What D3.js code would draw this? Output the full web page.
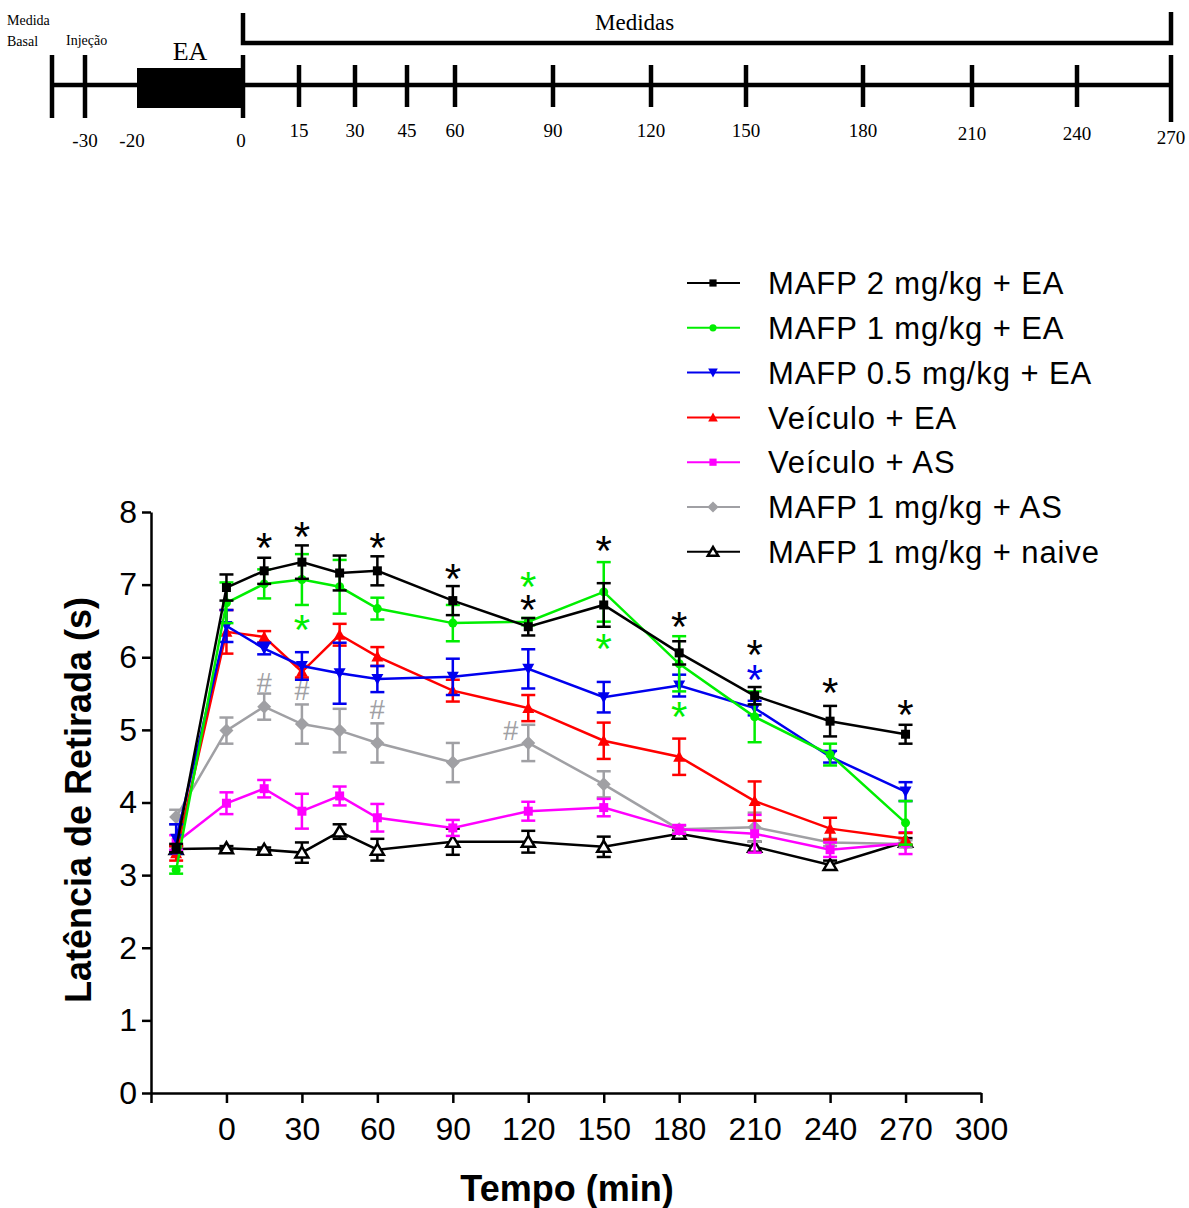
<!DOCTYPE html>
<html><head><meta charset="utf-8">
<script src="https://cdn.jsdelivr.net/npm/d3@7"></script>
<style>body{margin:0;background:#fff}svg{display:block}</style>
</head><body>
<svg id="c" width="1189" height="1208"></svg>
<script>
// ---------------- DATA ----------------
const times = [-20, 0, 15, 30, 45, 60, 90, 120, 150, 180, 210, 240, 270];
const seriesNames = ["MAFP 2 mg/kg + EA","MAFP 1 mg/kg + EA","MAFP 0.5 mg/kg + EA","Veículo + EA","Veículo + AS","MAFP 1 mg/kg + AS","MAFP 1 mg/kg + naive"];
const mafp2EA     = [3.37,6.96,7.19,7.31,7.16,7.19,6.78,6.42,6.72,6.06,5.47,5.12,4.94];
const mafp2EAsem  = [0.06,0.18,0.18,0.23,0.24,0.20,0.20,0.12,0.30,0.16,0.12,0.21,0.13];
const mafp1EA     = [3.07,6.75,7.01,7.07,6.97,6.67,6.47,6.49,6.90,5.91,5.18,4.66,3.72];
const mafp1EAsem  = [0.05,0.28,0.20,0.35,0.37,0.15,0.25,0.05,0.41,0.38,0.35,0.15,0.30];
const mafp05EA    = [3.50,6.43,6.12,5.88,5.78,5.70,5.73,5.84,5.45,5.61,5.30,4.63,4.15];
const mafp05EAsem = [0.20,0.22,0.08,0.19,0.42,0.18,0.25,0.27,0.21,0.15,0.10,0.08,0.13];
const veicEA      = [3.30,6.35,6.28,5.80,6.31,6.01,5.54,5.30,4.85,4.63,4.02,3.64,3.50];
const veicEAsem   = [0.10,0.30,0.08,0.08,0.15,0.13,0.15,0.18,0.25,0.25,0.27,0.15,0.08];
const veicAS      = [3.45,3.99,4.19,3.88,4.09,3.79,3.65,3.88,3.93,3.63,3.57,3.35,3.44];
const veicASsem   = [0.10,0.15,0.12,0.24,0.13,0.19,0.11,0.13,0.12,0.06,0.26,0.10,0.15];
const mafp1AS     = [3.80,4.99,5.32,5.08,4.99,4.82,4.55,4.82,4.25,3.63,3.66,3.45,3.43];
const mafp1ASsem  = [0.10,0.18,0.18,0.27,0.30,0.27,0.27,0.25,0.18,0.05,0.20,0.05,0.05];
const mafp1naive    = [3.36,3.37,3.35,3.31,3.60,3.35,3.46,3.46,3.39,3.57,3.39,3.14,3.46];
const mafp1naivesem = [0.04,0.03,0.03,0.14,0.10,0.15,0.18,0.15,0.14,0.05,0.07,0.06,0.05];
// significance marks: time, value-position, symbol, series index (for colour)
const markTimes  = [15,30,60,90,120,150,180,210,240,270, 30,120,150,180, 210, 15,30,60,113];
const markValues = [7.58,7.73,7.58,7.15,6.73,7.53,6.49,6.11,5.58,5.28, 6.45,7.04,6.19,5.25, 5.76, 5.66,5.55,5.29,4.99];
const markSymbols= ["*","*","*","*","*","*","*","*","*","*", "*","*","*","*", "*", "#","#","#","#"];
const markSeries = [0,0,0,0,0,0,0,0,0,0, 1,1,1,1, 2, 5,5,5,5];
const xTicks = [-30,0,30,60,90,120,150,180,210,240,270,300];
const yTicks = [0,1,2,3,4,5,6,7,8];
// timeline diagram (schematic, not to scale)
const tlMajor = [0,15,30,45,60,90,120,150,180,210,240,270];
const tlPre = [-30,-20];

// ---------------- STYLE ----------------
const colors = ["#000000","#00ee00","#0000ee","#ff0000","#ff00ff","#a0a0a4","#000000"];
const shapes = ["square","circle","tridown","triup","square","diamond","triopen"];
const means = [mafp2EA,mafp1EA,mafp05EA,veicEA,veicAS,mafp1AS,mafp1naive];
const sems  = [mafp2EAsem,mafp1EAsem,mafp05EAsem,veicEAsem,veicASsem,mafp1ASsem,mafp1naivesem];

const svg = d3.select("#c");
svg.append("rect").attr("width",1189).attr("height",1208).attr("fill","#fff");

// ---------- timeline ----------
const serif = "'Liberation Serif','Times New Roman',serif";
const tx = d3.scaleLinear()
  .domain([-40,-30,-20,0,15,30,45,60,90,120,150,180,210,240,270])
  .range([52,85,137,243,299,355,407,455,553,651,746,863,972,1077,1171]);
const tl = svg.append("g");
const tlY = 85;
tl.append("line").attr("x1",tx(-40)).attr("x2",tx(270)).attr("y1",tlY).attr("y2",tlY).attr("stroke","#000").attr("stroke-width",4.5);
tl.append("rect").attr("x",tx(-20)).attr("width",tx(0)-tx(-20)).attr("y",tlY-17).attr("height",40).attr("fill","#000");
[-40,-30,0].forEach(t=>tl.append("line").attr("x1",tx(t)).attr("x2",tx(t)).attr("y1",tlY-30).attr("y2",tlY+33).attr("stroke","#000").attr("stroke-width",4.5));
tl.append("line").attr("x1",tx(270)).attr("x2",tx(270)).attr("y1",tlY-30).attr("y2",tlY+37).attr("stroke","#000").attr("stroke-width",4.5);
tlMajor.filter(t=>t>0&&t<270).forEach(t=>tl.append("line").attr("x1",tx(t)).attr("x2",tx(t)).attr("y1",tlY-20).attr("y2",tlY+22).attr("stroke","#000").attr("stroke-width",4.5));
tl.append("path").attr("d",`M${tx(0)},13 V43 H${tx(270)} V12`).attr("fill","none").attr("stroke","#000").attr("stroke-width",4.5);
tl.append("text").attr("x",tx(115)).attr("y",30).attr("text-anchor","middle").attr("font-family",serif).attr("font-size",23).text("Medidas");
tl.append("text").attr("x",(tx(-20)+tx(0))/2).attr("y",60).attr("text-anchor","middle").attr("font-family",serif).attr("font-size",26).text("EA");
tl.append("text").attr("x",7).attr("y",25).attr("font-family",serif).attr("font-size",14).text("Medida");
tl.append("text").attr("x",7).attr("y",46).attr("font-family",serif).attr("font-size",14).text("Basal");
tl.append("text").attr("x",66).attr("y",45).attr("font-family",serif).attr("font-size",14).text("Injeção");
tlPre.concat([0]).forEach(t=>tl.append("text").attr("x",tx(t)-(t===0?2:(t===-20?5:0))).attr("y",147).attr("text-anchor","middle").attr("font-family",serif).attr("font-size",19).text(t));
tlMajor.filter(t=>t>0).forEach(t=>tl.append("text").attr("x",tx(t)).attr("y",t===270?144:(t>=210?140:137)).attr("text-anchor","middle").attr("font-family",serif).attr("font-size",19).text(t));

// ---------- chart ----------
const sans = "'Liberation Sans',Arial,sans-serif";
const x = d3.scaleLinear().domain([-30,300]).range([151,981]);
const y = d3.scaleLinear().domain([0,8]).range([1093,512]);

const yAx = svg.append("g").attr("transform",`translate(${x(-30)},0)`)
  .call(d3.axisLeft(y).tickValues(yTicks).tickSize(9).tickPadding(5).tickSizeOuter(0));
const xAx = svg.append("g").attr("transform",`translate(0,${y(0)})`)
  .call(d3.axisBottom(x).tickValues(xTicks).tickSize(10).tickPadding(14).tickSizeOuter(0).tickFormat(d=>d<0?"":d));
[yAx,xAx].forEach(a=>{
  a.select(".domain").attr("stroke","#000").attr("stroke-width",2.5);
  a.selectAll(".tick line").attr("stroke","#000").attr("stroke-width",2.5);
  a.selectAll("text").attr("font-family",sans).attr("font-size",32).attr("fill","#000");
});
xAx.selectAll("text").attr("dy","0.71em");

svg.append("text").attr("transform",`translate(91,800) rotate(-90)`).attr("text-anchor","middle")
  .attr("font-family",sans).attr("font-weight","bold").attr("font-size",36).text("Latência de Retirada (s)");
svg.append("text").attr("x",567).attr("y",1201).attr("text-anchor","middle")
  .attr("font-family",sans).attr("font-weight","bold").attr("font-size",36).text("Tempo (min)");

function marker(g, shape, color, cx, cy, s){
  const k = s||1;
  if(shape==="square") g.append("rect").attr("x",cx-4.5*k).attr("y",cy-4.5*k).attr("width",9*k).attr("height",9*k).attr("fill",color);
  else if(shape==="circle") g.append("circle").attr("cx",cx).attr("cy",cy).attr("r",4.5*k).attr("fill",color);
  else if(shape==="tridown") g.append("path").attr("d",`M${cx-6*k},${cy-5*k} L${cx+6*k},${cy-5*k} L${cx},${cy+6*k} Z`).attr("fill",color);
  else if(shape==="triup") g.append("path").attr("d",`M${cx-6*k},${cy+5*k} L${cx+6*k},${cy+5*k} L${cx},${cy-6*k} Z`).attr("fill",color);
  else if(shape==="diamond") g.append("path").attr("d",`M${cx},${cy-7*k} L${cx+7*k},${cy} L${cx},${cy+7*k} L${cx-7*k},${cy} Z`).attr("fill",color);
  else if(shape==="triopen") g.append("path").attr("d",`M${cx-6.5*k},${cy+5*k} L${cx+6.5*k},${cy+5*k} L${cx},${cy-6*k} Z`).attr("fill","#fff").attr("stroke",color).attr("stroke-width",2.5);
}

const line = d3.line().x(d=>x(d[0])).y(d=>y(d[1]));
const order = [6,5,4,3,2,1,0];
order.forEach(i=>{
  const g = svg.append("g");
  const pts = times.map((t,j)=>[t,means[i][j],sems[i][j]]);
  pts.forEach(p=>{
    const cx=x(p[0]), y1=y(p[1]+p[2]), y2=y(p[1]-p[2]);
    g.append("line").attr("x1",cx).attr("x2",cx).attr("y1",y1).attr("y2",y2).attr("stroke",colors[i]).attr("stroke-width",2.5);
    [y1,y2].forEach(yy=>g.append("line").attr("x1",cx-7).attr("x2",cx+7).attr("y1",yy).attr("y2",yy).attr("stroke",colors[i]).attr("stroke-width",2.5));
  });
  g.append("path").attr("d",line(pts)).attr("fill","none").attr("stroke",colors[i]).attr("stroke-width",2.5);
  pts.forEach(p=>marker(g,shapes[i],colors[i],x(p[0]),y(p[1])));
});

// significance marks
markTimes.forEach((t,k)=>{
  const isStar = markSymbols[k]==="*";
  svg.append("text").attr("x",x(t)).attr("y",y(markValues[k])).attr("dy",isStar?"0.46em":"0.36em")
    .attr("text-anchor","middle").attr("font-family",sans).attr("font-size",isStar?42:27)
    .attr("fill",colors[markSeries[k]]).text(markSymbols[k]);
});

// legend
const lg = svg.append("g");
seriesNames.forEach((n,i)=>{
  const yy = 283 + i*44.8;
  lg.append("line").attr("x1",687).attr("x2",740).attr("y1",yy).attr("y2",yy).attr("stroke",colors[i]).attr("stroke-width",2);
  marker(lg,shapes[i],colors[i],713,yy,0.8);
  lg.append("text").attr("x",768).attr("y",yy).attr("dy","0.36em").attr("font-family",sans).attr("font-size",31)
    .attr("letter-spacing",0.9).attr("fill","#000").text(n);
});
</script>
</body></html>
